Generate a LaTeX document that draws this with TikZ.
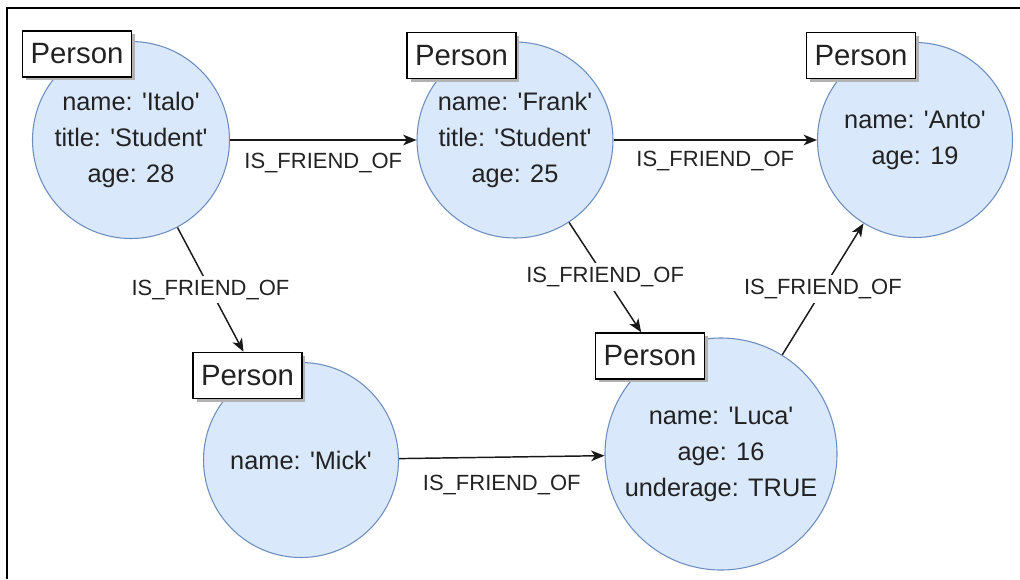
\documentclass[tikz,border=0pt]{standalone}
\usepackage{fontspec}
\setmainfont{Liberation Sans}
\usetikzlibrary{arrows.meta,shadows}
\definecolor{nodefill}{HTML}{DAE8FC}
\definecolor{nodeline}{HTML}{6C8EBF}
\definecolor{ink}{HTML}{222222}
\newcommand{\q}{\textquotesingle}
\begin{document}
\begin{tikzpicture}[x=0.75pt,y=-0.75pt,
  person/.style={circle, draw=nodeline, fill=nodefill, line width=0.8pt, inner sep=0pt,
    text=ink, align=center, font=\fontsize{19}{27}\selectfont},
  tag/.style={draw=black, fill=white, line width=1.1pt, minimum width=81.5pt,
    minimum height=34.5pt, inner sep=0pt, text=ink, font=\fontsize{22}{26}\selectfont,
    drop shadow={shadow xshift=2.5pt, shadow yshift=-2.5pt, fill=black!30, opacity=1}},
  rel/.style={draw=black!90, line width=1.1pt, -{Stealth[length=10pt,width=8pt,inset=2.8pt]}},
  elabel/.style={text=ink, font=\fontsize{16.5}{20}\selectfont, inner sep=1pt},
  onedge/.style={elabel, fill=white, inner sep=3pt}
]
\useasboundingbox (0,0) rectangle (1020,579);
% frame edges
\draw[line width=1.5pt] (7,579) -- (7,8) -- (1020,8);

% person nodes
\node[person, minimum size=147.75pt] (Italo) at (131,140) {name: \q Italo\q\\title: \q Student\q\\age: 28};
\node[person, minimum size=147pt]    (Frank) at (515,140) {name: \q Frank\q\\title: \q Student\q\\age: 25};
\node[person, minimum size=146.25pt] (Anto)  at (915,140) {name: \q Anto\q\\age: 19};
\node[person, minimum size=146.25pt] (Mick)  at (301,460) {name: \q Mick\q};
\node[person, minimum size=174pt]    (Luca)  at (721,454) {name: \q Luca\q\\age: 16\\underage: TRUE};

% type tags
\node[tag] (ItaloT) at (77,54)      {Person};
\node[tag] (FrankT) at (461.5,55.5) {Person};
\node[tag] (AntoT)  at (861,55.5)   {Person};
\node[tag] (MickT)  at (247.5,375.5){Person};
\node[tag] (LucaT)  at (650,356)    {Person};

% arrow tips that stop on the tag boxes
\coordinate (tipM) at (intersection of Italo.center--Mick.center and MickT.north west--MickT.north east);
\coordinate (tipL) at (intersection of Frank.center--Luca.center and LucaT.north west--LucaT.north east);

% relationships
\draw[rel] (Italo) -- (Frank) node[elabel, midway, yshift=-17pt] {IS\_FRIEND\_OF};
\draw[rel] (Frank) -- (Anto)  node[elabel, midway, yshift=-16pt] {IS\_FRIEND\_OF};
\draw[rel] (Italo) -- (tipM)  node[onedge, midway] {IS\_FRIEND\_OF};
\draw[rel] (Frank) -- (tipL)  node[onedge, midway] {IS\_FRIEND\_OF};
\draw[rel] (Luca)  -- (Anto)  node[onedge, midway] {IS\_FRIEND\_OF};
\draw[rel] (Mick)  -- (Luca)  node[elabel, midway, yshift=-21pt] {IS\_FRIEND\_OF};
\end{tikzpicture}
\end{document}
